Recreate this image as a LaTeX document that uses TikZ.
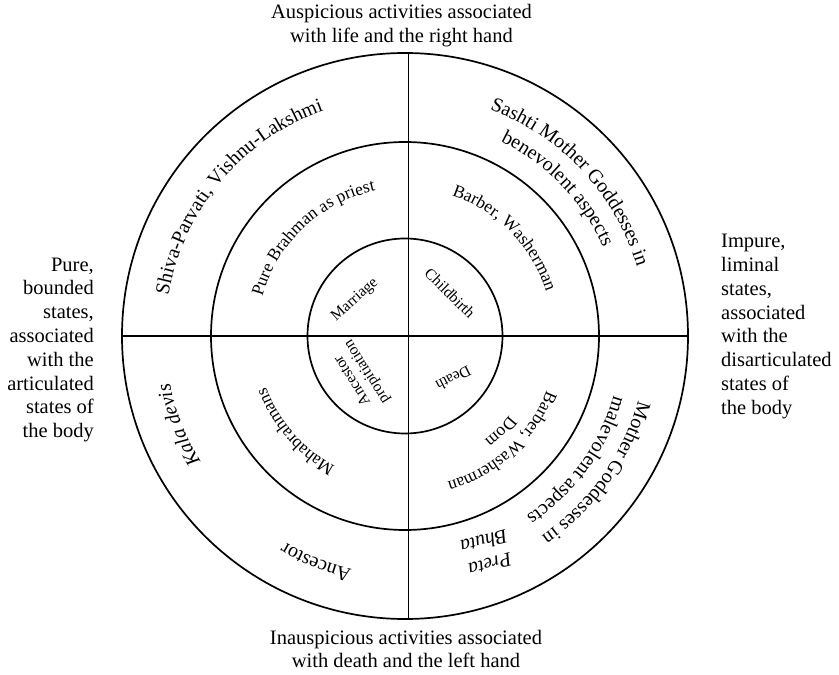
\documentclass[tikz,border=0pt]{standalone}
\usepackage{fontspec}
\setmainfont{Liberation Serif}
\usetikzlibrary{decorations.text}

% type sizes for the three rings and the side labels
\newcommand\outerringfont{\fontsize{20bp}{24bp}\selectfont}
\newcommand\middleringfont{\fontsize{17.5bp}{21bp}\selectfont}
\newcommand\innerringfont{\fontsize{15.5bp}{17bp}\selectfont}
\newcommand\sidefont{\fontsize{20.5bp}{23.8bp}\selectfont}

% text set clockwise along an arc: radius, middle angle, font, text
\newcommand\arctext[4]{%
  \path[decorate, decoration={text along path, text align=center,
        text={|#3|#4}}]
    (#2+70:#1) arc[start angle=#2+70, end angle=#2-70, radius=#1];}

\begin{document}
\begin{tikzpicture}[x=1bp, y=1bp,
  ring/.style={line width=1.7bp},
  sidelabel/.style={font=\sidefont, inner sep=0pt},
  innerlabel/.style={font=\innerringfont, inner sep=0pt, align=center},
  ringlabel/.style={font=\outerringfont\itshape, inner sep=0pt, align=center}]
\useasboundingbox (-405,-339) rectangle (434,336);

\coordinate (O) at (0,0);
\coordinate (N) at (3.5,283);
\coordinate (S) at (3.5,-283);
\coordinate (W) at (-283,0);
\coordinate (E) at (283,0);

% the three rings and the cross that quarters them
\draw[ring] (O) circle[radius=283];
\draw[ring] (O) circle[radius=194];
\draw[ring] (O) circle[radius=97.5];
\draw[ring] (N) -- (S);
\draw[ring] (W) -- (E);

% labels round the outside
\node[sidelabel, align=center] (auspicious) at (-3.5,310)
  {Auspicious activities associated\\with life and the right hand};
\node[sidelabel, align=center] (inauspicious) at (1,-313)
  {Inauspicious activities associated\\with death and the left hand};
\node[sidelabel, align=right, anchor=east] (pure) at (-311,-14)
  {Pure,\\bounded\\states,\\associated\\with the\\articulated\\states of\\the body};
\node[sidelabel, align=left, anchor=west] (impure) at (316,9.5)
  {Impure,\\liminal\\states,\\associated\\with the\\disarticulated\\states of\\the body};

% outer ring
\arctext{240}{140}{\outerringfont}{Shiva-Parvati, Vishnu-Lakshmi}
\arctext{242}{43}{\outerringfont}{Sashti Mother Goddesses in}
\arctext{217}{44}{\outerringfont}{benevolent  aspects}
\arctext{240}{201.5}{\outerringfont\itshape}{Kala devis}
\arctext{239}{248.5}{\outerringfont}{Ancestor}
\arctext{242}{324.5}{\outerringfont}{Mother Goddesses in}
\arctext{217}{324}{\outerringfont}{malevolent aspects}
\node[ringlabel, rotate=195] (preta) at (82,-217) {Preta\\Bhuta};

% middle ring
\arctext{148}{133}{\middleringfont}{Pure Brahman as priest}
\arctext{148}{44.5}{\middleringfont}{Barber, Washerman}
\arctext{148}{221}{\middleringfont}{Mahabrahmans}
\arctext{152}{312.5}{\middleringfont}{Barber, Washerman}
\arctext{131}{315}{\middleringfont}{Dom}

% inner ring
\node[innerlabel, rotate=42] (marriage) at (-50,36) {Marriage};
\node[innerlabel, rotate=-45] (childbirth) at (45,43) {Childbirth};
\node[innerlabel, rotate=-153] (death) at (48.5,-42.5) {Death};
\node[innerlabel, rotate=122] (propitiation) at (-45,-40) {Ancestor\\propitiation};
\end{tikzpicture}
\end{document}
